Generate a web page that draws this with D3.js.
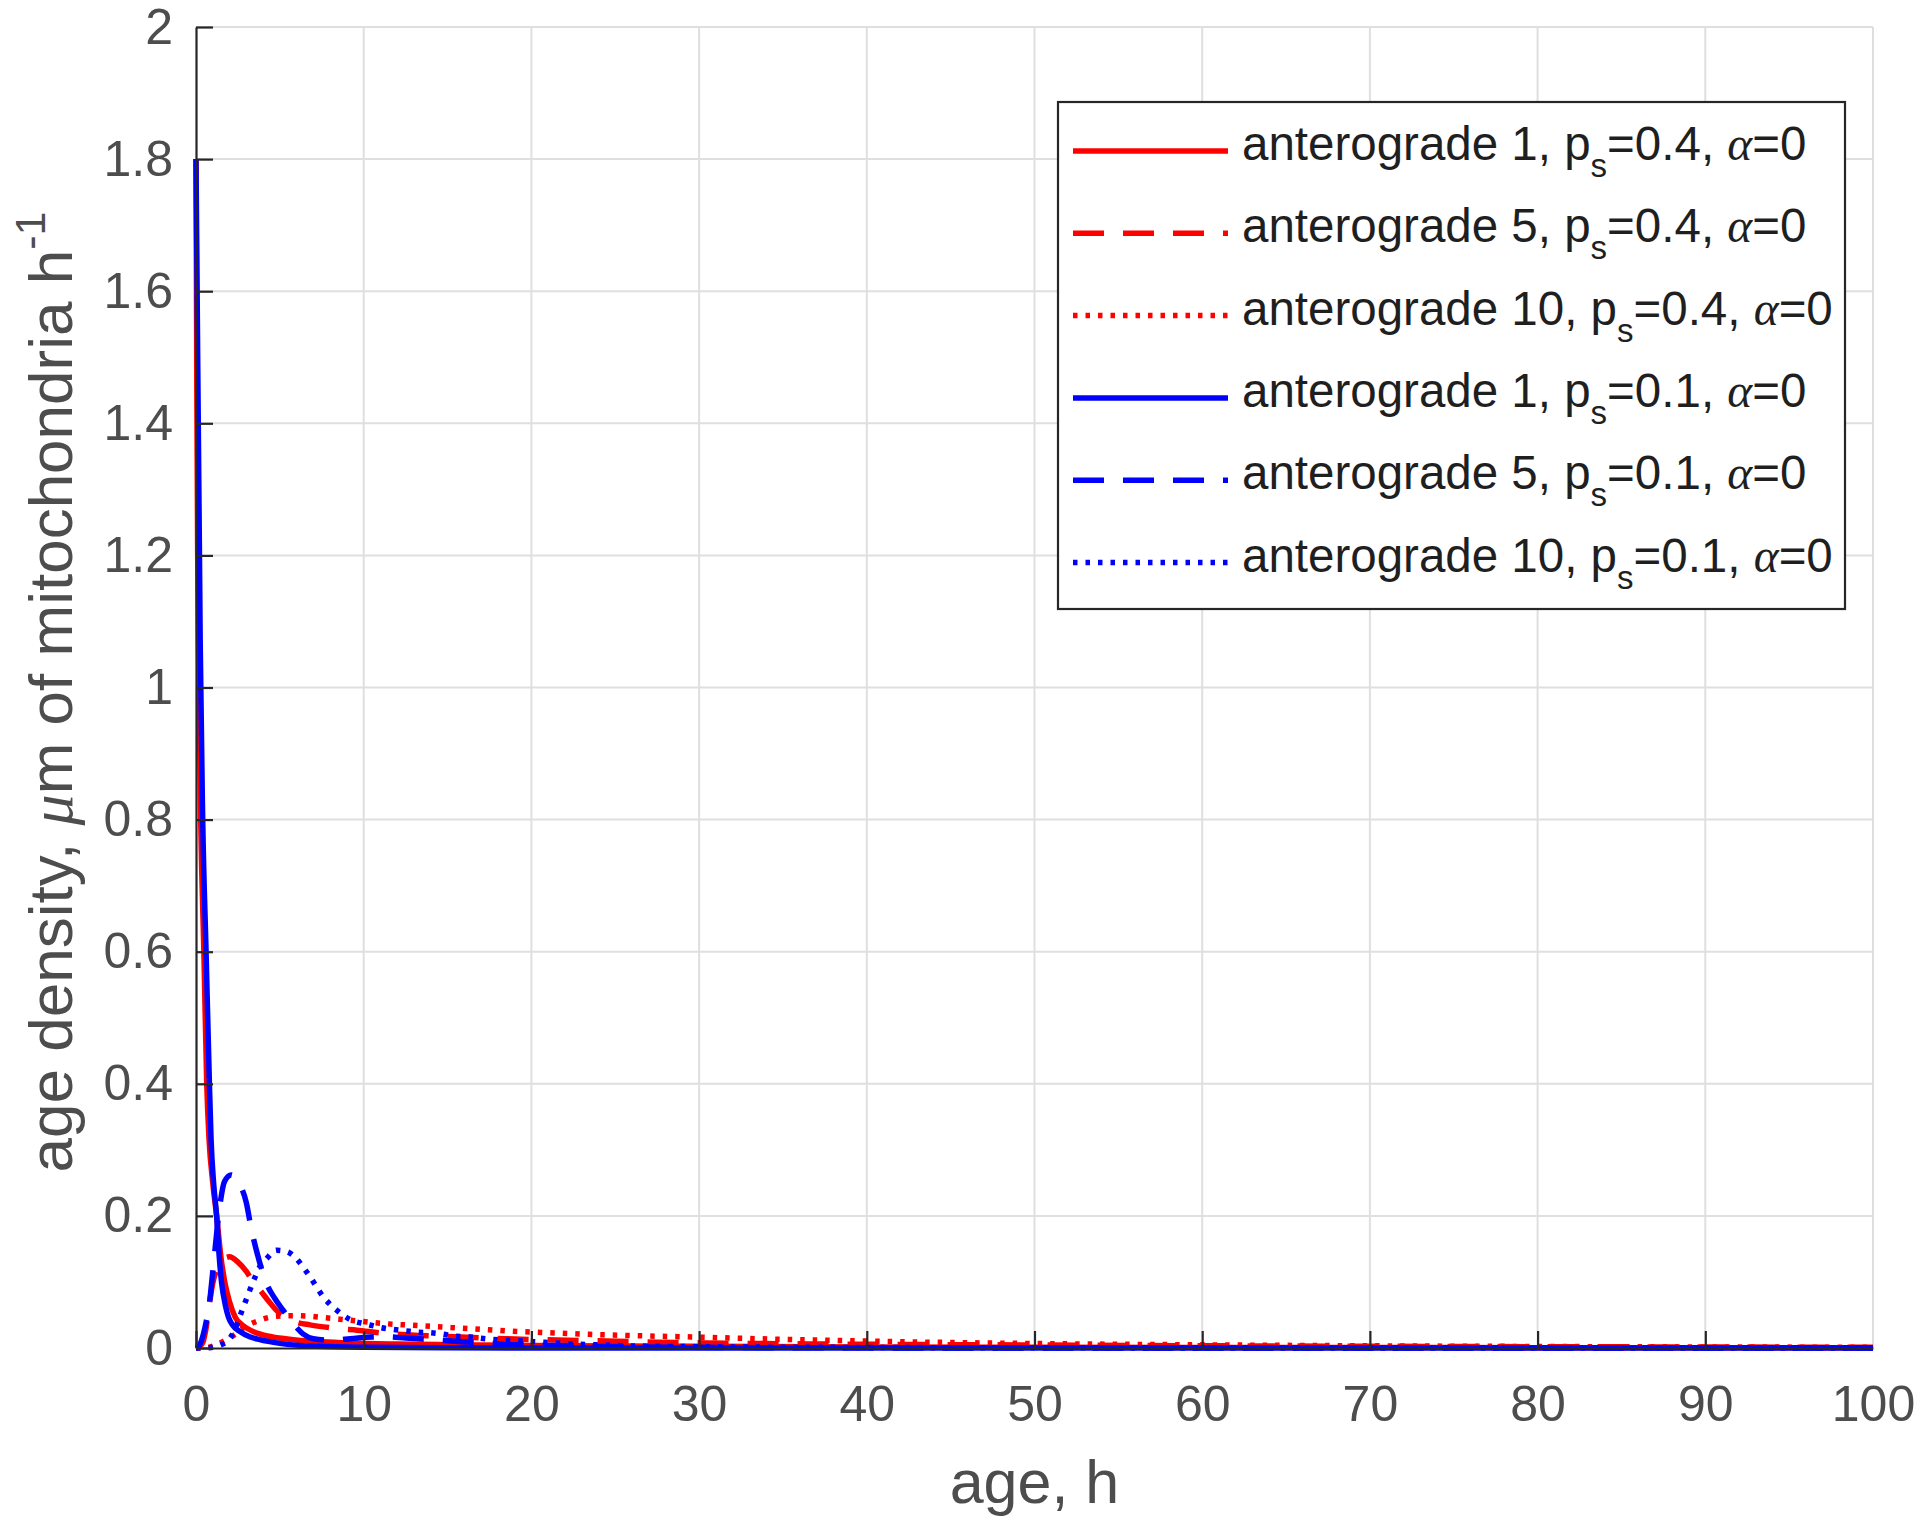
<!DOCTYPE html>
<html><head><meta charset="utf-8">
<script src="https://cdn.jsdelivr.net/npm/d3@7"></script>
<style>
body{margin:0;background:#fff;}
text{font-family:"Liberation Sans",Arial,Helvetica,sans-serif;}
</style>
</head><body>
<svg id="chart" width="1920" height="1526"></svg>
<script>
// ---------- data ----------
const xTicks = [0,10,20,30,40,50,60,70,80,90,100];
const yTicks = [0,0.2,0.4,0.6,0.8,1,1.2,1.4,1.6,1.8,2];
const yTickLabels = ["0","0.2","0.4","0.6","0.8","1","1.2","1.4","1.6","1.8","2"];
const xLabel = "age, h";

const seriesNames = ["anterograde 1","anterograde 5","anterograde 10","anterograde 1","anterograde 5","anterograde 10"];
const seriesPs = ["0.4","0.4","0.4","0.1","0.1","0.1"];
const seriesColors = ["#ff0000","#ff0000","#ff0000","#0000ff","#0000ff","#0000ff"];
const seriesStyles = ["solid","dashed","dotted","solid","dashed","dotted"];

const antero1Ps04 = [[0,1.8],[0.05,1.45],[0.1,1.2],[0.2,0.95],[0.28,0.8],[0.47,0.6],[0.64,0.4],[0.78,0.315],[1.0,0.25],[1.23,0.2],[1.5,0.135],[1.73,0.098],[2.0,0.07],[2.33,0.047],[2.8,0.034],[3.4,0.025],[4.5,0.017],[5.8,0.0126],[7.5,0.0095],[9.2,0.0076],[12,0.006],[15,0.005],[20,0.0038],[25,0.003],[30,0.0025],[40,0.0017],[50,0.0012],[60,0.0009],[70,0.0007],[80,0.0005],[90,0.0004],[100,0.0003]];
const antero5Ps04 = [[0,0],[0.2,0.002],[0.4,0.008],[0.6,0.03],[0.8,0.067],[1.0,0.098],[1.3,0.122],[1.6,0.134],[2.0,0.138],[2.5,0.13],[3.0,0.116],[3.4,0.1],[3.8,0.088],[4.3,0.072],[4.8,0.057],[5.4,0.046],[6.0,0.039],[6.8,0.035],[7.6,0.032],[8.6,0.029],[9.6,0.027],[11,0.023],[12.8,0.0197],[15.5,0.017],[18.5,0.014],[21.5,0.012],[24.5,0.0106],[27.5,0.0088],[30.5,0.0076],[33.5,0.0068],[36.5,0.0062],[40,0.0057],[45,0.005],[51,0.0045],[62,0.0032],[70,0.0026],[80,0.002],[90,0.0015],[100,0.0011]];
const antero10Ps04 = [[0,0],[0.6,0.0005],[1.1,0.004],[1.8,0.0126],[2.3,0.02],[2.8,0.03],[3.3,0.037],[3.8,0.042],[4.3,0.046],[4.8,0.048],[5.8,0.049],[6.8,0.048],[7.6,0.046],[8.4,0.044],[9.2,0.042],[11.2,0.037],[13.2,0.034],[15.2,0.031],[17.2,0.028],[19.2,0.025],[21.1,0.023],[23.1,0.021],[26.1,0.0187],[29.1,0.017],[32.1,0.015],[35.1,0.013],[38,0.0115],[42,0.0095],[46,0.008],[50,0.0068],[55,0.0057],[60,0.0048],[70,0.0033],[80,0.0023],[90,0.0016],[100,0.0011]];
const antero1Ps01 = [[0,1.8],[0.1,1.5],[0.2,1.22],[0.25,1.07],[0.4,0.8],[0.6,0.6],[0.8,0.4],[0.9,0.315],[1.05,0.25],[1.23,0.2],[1.38,0.14],[1.53,0.098],[1.75,0.065],[1.93,0.047],[2.2,0.034],[2.62,0.025],[3.2,0.017],[3.8,0.0126],[5,0.007],[7.2,0.0025],[10,0.001],[15,0.0003],[20,0.0001],[30,0],[100,0]];
const antero5Ps01 = [[0,0],[0.2,0.004],[0.44,0.021],[0.65,0.045],[0.8,0.067],[0.93,0.098],[1.13,0.148],[1.3,0.19],[1.47,0.224],[1.7,0.252],[2.1,0.262],[2.5,0.252],[3.0,0.22],[3.3,0.18],[3.6,0.148],[4.2,0.098],[4.7,0.075],[5.2,0.057],[5.8,0.037],[6.4,0.021],[7.0,0.014],[8.0,0.012],[9.2,0.014],[10.5,0.0167],[11.5,0.0167],[12.5,0.015],[14.5,0.012],[16.7,0.008],[19.7,0.005],[23,0.003],[27,0.0015],[32,0.0007],[40,0.0002],[50,0],[100,0]];
const antero10Ps01 = [[0,0],[0.8,0.0005],[1.4,0.004],[2.0,0.014],[2.3,0.027],[2.6,0.047],[2.9,0.067],[3.2,0.087],[3.5,0.106],[3.8,0.123],[4.2,0.135],[4.8,0.148],[5.4,0.146],[6.0,0.135],[6.4,0.122],[6.8,0.108],[7.2,0.092],[7.6,0.077],[8.0,0.066],[8.4,0.057],[9.2,0.043],[10.2,0.036],[11,0.031],[11.8,0.028],[12.5,0.026],[13.2,0.024],[14,0.023],[14.7,0.021],[15.4,0.018],[16.2,0.017],[17,0.0146],[17.7,0.013],[19.2,0.011],[20.8,0.0086],[22.4,0.006],[23.8,0.005],[25.4,0.0035],[30,0.002],[40,0.0008],[50,0.0003],[60,0.0001],[70,0],[100,0]];

const seriesData = [antero1Ps04, antero5Ps04, antero10Ps04, antero1Ps01, antero5Ps01, antero10Ps01];

// ---------- layout ----------
const plot = {left:196, right:1873, top:27, bottom:1348};
const dashFor = {solid:null, dashed:"31,19", dotted:"4.5,8"};
const lineW = 5.5;

const svg = d3.select("#chart");
svg.append("rect").attr("width",1920).attr("height",1526).attr("fill","#fff");

const x = d3.scaleLinear().domain([0,100]).range([plot.left, plot.right]);
const y = d3.scaleLinear().domain([0,2]).range([plot.bottom, plot.top]);

// grid
const grid = svg.append("g").attr("stroke","#dfdfdf").attr("stroke-width",2);
grid.selectAll("line.v").data(xTicks.filter(d=>d>0)).join("line")
  .attr("x1",d=>x(d)).attr("x2",d=>x(d)).attr("y1",plot.top).attr("y2",plot.bottom);
grid.selectAll("line.h").data(yTicks.filter(d=>d>0)).join("line")
  .attr("y1",d=>y(d)).attr("y2",d=>y(d)).attr("x1",plot.left).attr("x2",plot.right);

// clip
svg.append("clipPath").attr("id","clip").append("rect")
  .attr("x",plot.left-4).attr("y",plot.top-4)
  .attr("width",plot.right-plot.left+8).attr("height",plot.bottom-plot.top+8);

const line = d3.line().x(d=>x(d[0])).y(d=>y(d[1])).curve(d3.curveMonotoneX);
const curves = svg.append("g").attr("clip-path","url(#clip)");
seriesData.forEach((s,i)=>{
  curves.append("path").datum(s).attr("d",line)
    .attr("fill","none").attr("stroke",seriesColors[i]).attr("stroke-width",lineW)
    .attr("stroke-linejoin","round")
    .attr("stroke-dasharray",dashFor[seriesStyles[i]]);
});

// axes
const axisColor = "#262626";
const tickColor = "#4d4d4d";
const xAxis = d3.axisBottom(x).tickValues(xTicks).tickFormat(d3.format("d"))
  .tickSizeInner(-17).tickSizeOuter(0).tickPadding(37);
const yAxis = d3.axisLeft(y).tickValues(yTicks).tickFormat((d,i)=>yTickLabels[i])
  .tickSizeInner(-17).tickSizeOuter(0).tickPadding(23);

const gx = svg.append("g").attr("transform",`translate(0,${plot.bottom})`).call(xAxis);
const gy = svg.append("g").attr("transform",`translate(${plot.left},0)`).call(yAxis);
[gx,gy].forEach(g=>{
  g.select(".domain").attr("stroke",axisColor).attr("stroke-width",2.2);
  g.selectAll(".tick line").attr("stroke",axisColor).attr("stroke-width",2.2);
  g.selectAll(".tick text").attr("fill",tickColor).attr("font-size",50)
    .attr("font-family",'"Liberation Sans",Arial,Helvetica,sans-serif');
});
gx.selectAll(".tick").filter(d=>d===100).select("line").remove();

// axis labels
svg.append("text").attr("x",(plot.left+plot.right)/2).attr("y",1503)
  .attr("text-anchor","middle").attr("font-size",61).attr("fill",tickColor).text(xLabel);

const yl = svg.append("text").attr("transform","translate(72,692) rotate(-90)")
  .attr("text-anchor","middle").attr("font-size",62).attr("fill",tickColor);
yl.append("tspan").text("age density, ");
yl.append("tspan").attr("font-family",'"Liberation Serif","Times New Roman",serif').attr("font-style","italic").text("μ");
yl.append("tspan").text("m of mitochondria h");
yl.append("tspan").attr("font-size",43).attr("dy",-27).text("-1");

// legend
const leg = {x:1058, y:102, w:787, h:507};
svg.append("rect").attr("x",leg.x).attr("y",leg.y).attr("width",leg.w).attr("height",leg.h)
  .attr("fill","#fff").attr("stroke","#262626").attr("stroke-width",2.2);
const legendColor = "#1f1f1f";
seriesNames.forEach((name,i)=>{
  const cy = 151 + i*82.3;
  svg.append("line").attr("x1",1073).attr("x2",1228).attr("y1",cy).attr("y2",cy)
    .attr("stroke",seriesColors[i]).attr("stroke-width",lineW)
    .attr("stroke-dasharray",dashFor[seriesStyles[i]]);
  const t = svg.append("text").attr("x",1242).attr("y",cy+9).attr("font-size",47.5).attr("fill",legendColor);
  t.append("tspan").text(name + ", p");
  t.append("tspan").attr("font-size",33).attr("dy",17).text("s");
  t.append("tspan").attr("dy",-17).text("=" + seriesPs[i] + ", ");
  t.append("tspan").attr("font-family",'"Liberation Serif","Times New Roman",serif').attr("font-style","italic").text("α");
  t.append("tspan").text("=0");
});
</script>
</body></html>
